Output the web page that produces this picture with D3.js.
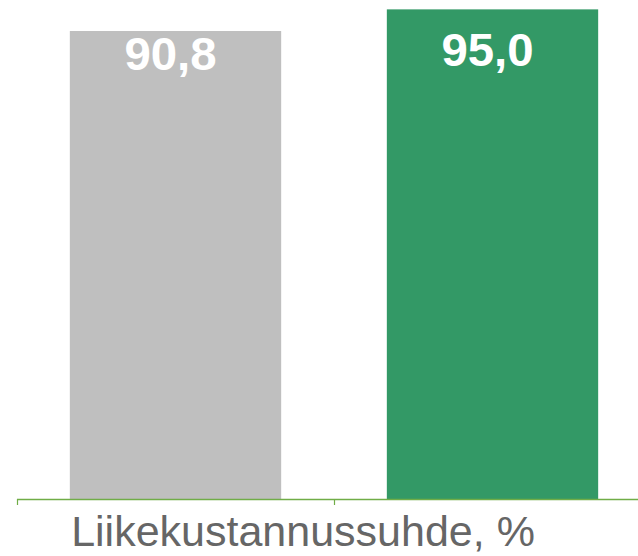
<!DOCTYPE html>
<html>
<head>
<meta charset="utf-8">
<script src="https://cdn.jsdelivr.net/npm/d3@7"></script>
<style>
  html, body { margin: 0; padding: 0; background: #ffffff; }
  svg { display: block; }
</style>
</head>
<body>
<svg id="chart" width="638" height="556"></svg>
<script>
// ---- data ----
const categories = ["2022", "2023"];
const values = [90.8, 95.0];
const labels = ["90,8", "95,0"];
const barColors = ["#bfbfbf", "#339966"];
const axisTitle = "Liikekustannussuhde, %";

// ---- layout ----
const width = 638, height = 556;
const plotLeft = 17, plotRight = 651;
const baseY = 499;
const pxPerUnit = 5.154;

const svg = d3.select("#chart");

const x = d3.scaleBand()
  .domain(categories)
  .range([plotLeft, plotRight])
  .paddingInner(1 / 3)
  .paddingOuter(1 / 6);

const y = d3.scaleLinear()
  .domain([0, 100])
  .range([baseY, baseY - 100 * pxPerUnit]);

// bars
svg.append("g")
  .selectAll("rect")
  .data(values)
  .join("rect")
  .attr("x", (d, i) => x(categories[i]))
  .attr("y", d => y(d))
  .attr("width", x.bandwidth())
  .attr("height", d => baseY - y(d))
  .attr("fill", (d, i) => barColors[i]);

// axis line and category-boundary ticks
const axisColor = "#70ad47";
svg.append("line")
  .attr("x1", plotLeft).attr("x2", width)
  .attr("y1", baseY + 0.5).attr("y2", baseY + 0.5)
  .attr("stroke", axisColor).attr("stroke-width", 1.5);

const boundaries = categories.map(c => x(c) - x.step() * x.paddingOuter());
svg.append("g")
  .selectAll("line")
  .data(boundaries)
  .join("line")
  .attr("x1", d => d + 0.5).attr("x2", d => d + 0.5)
  .attr("y1", baseY).attr("y2", baseY + 6)
  .attr("stroke", axisColor).attr("stroke-width", 1.2);

// value labels
svg.append("g")
  .selectAll("text")
  .data(values)
  .join("text")
  .attr("transform", (d, i) => {
    const cx = x(categories[i]) + x.bandwidth() / 2 - 5;
    const ty = Math.max(y(d) + 39, 66);
    return `translate(${cx},${ty}) scale(1.03,1)`;
  })
  .attr("text-anchor", "middle")
  .attr("font-family", "'Liberation Sans', Arial, sans-serif")
  .attr("font-weight", "bold")
  .attr("font-size", 46)
  .attr("fill", "#ffffff")
  .text((d, i) => labels[i]);

// axis title
svg.append("text")
  .attr("x", 303)
  .attr("y", 546)
  .attr("text-anchor", "middle")
  .attr("font-family", "'Liberation Sans', Arial, sans-serif")
  .attr("font-size", 43)
  .attr("fill", "#666666")
  .text(axisTitle);
</script>
</body>
</html>
